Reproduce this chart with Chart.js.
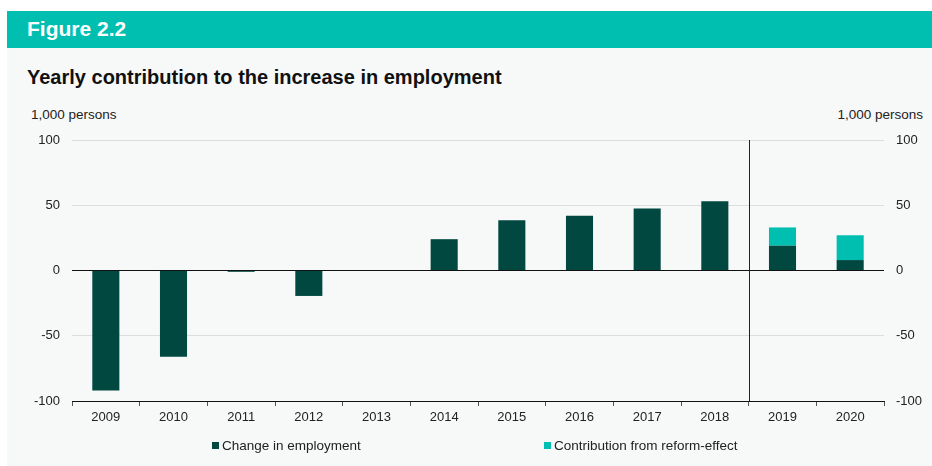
<!DOCTYPE html>
<html>
<head>
<meta charset="utf-8">
<script src="https://cdn.jsdelivr.net/npm/chart.js@4"></script>
<style>
  html, body { margin: 0; padding: 0; background: #fff; }
  body { width: 932px; height: 466px; position: relative; overflow: hidden; font-family: "Liberation Sans", Arial, sans-serif; }
  .panel { position: absolute; left: 7px; top: 48px; right: 0; bottom: 0; background: #f7f8f8; }
  .header { position: absolute; left: 7px; top: 11px; right: 0; height: 37px; background: #00bfb0; }
  .header span { position: absolute; left: 20px; top: 6px; color: #fff; font-weight: bold; font-size: 21px; }
  .title { position: absolute; left: 27px; top: 66px; font-weight: bold; font-size: 20px; color: #111; }
  .unit { position: absolute; top: 107px; font-size: 13.5px; color: #222; }
  .legend { position: absolute; top: 438px; font-size: 13.5px; color: #222; white-space: nowrap; }
  .legend i { display: inline-block; width: 7px; height: 7px; margin-right: 3px; vertical-align: 1px; }
  canvas { position: absolute; left: 0; top: 0; }
</style>
</head>
<body>
<div class="panel"></div>
<div class="header"><span>Figure 2.2</span></div>
<div class="title">Yearly contribution to the increase in employment</div>
<div class="unit" style="left:31px">1,000 persons</div>
<div class="unit" style="right:9px">1,000 persons</div>
<canvas id="chartEmployment" width="932" height="466"></canvas>
<div class="legend" style="left:212px"><i style="background:#004840"></i>Change in employment</div>
<div class="legend" style="left:544px"><i style="background:#00bfb0"></i>Contribution from reform-effect</div>

<script>
// Data (1,000 persons)
const years = ['2009', '2010', '2011', '2012', '2013', '2014', '2015', '2016', '2017', '2018', '2019', '2020'];
const changeInEmployment = [-92, -66, -1, -19.5, 0, 24, 38.5, 42, 47.5, 53, 19, 8];
const reformEffect = [null, null, null, null, null, null, null, null, null, null, 14, 19];
const yTicks = [100, 50, 0, -50, -100];

const darkGreen = '#004840';
const teal = '#00bfb0';

// Vertical line between 2018 and 2019
const forecastLine = {
  id: 'forecastLine',
  afterDatasetsDraw(chart) {
    const { ctx, chartArea, scales } = chart;
    const x = Math.round((scales.x.getPixelForValue(9) + scales.x.getPixelForValue(10)) / 2) + 0.5;
    ctx.save();
    ctx.strokeStyle = '#222';
    ctx.lineWidth = 1;
    ctx.beginPath();
    ctx.moveTo(x, chartArea.top);
    ctx.lineTo(x, chartArea.bottom);
    ctx.stroke();
    ctx.restore();
  }
};

const setTicks = scale => { scale.ticks = yTicks.map(v => ({ value: v })); };
const tickFont = { family: '"Liberation Sans", Arial, sans-serif', size: 13 };

new Chart(document.getElementById('chartEmployment'), {
  type: 'bar',
  data: {
    labels: years,
    datasets: [
      { label: 'Change in employment', data: changeInEmployment, backgroundColor: darkGreen },
      { label: 'Contribution from reform-effect', data: reformEffect, backgroundColor: teal }
    ]
  },
  options: {
    responsive: false,
    animation: false,
    datasets: { bar: { barPercentage: 0.4, categoryPercentage: 1 } },
    layout: { padding: { left: 0, right: 0, top: 140, bottom: 35 } },
    plugins: { legend: { display: false }, tooltip: { enabled: false } },
    scales: {
      x: {
        stacked: true,
        afterFit: s => { s.height = 30; },
        grid: { drawOnChartArea: false, drawTicks: true, tickLength: 5, color: '#555', offset: true },
        border: { display: true, color: '#111', width: 1 },
        ticks: { color: '#222', font: tickFont, padding: 4, maxRotation: 0 }
      },
      y: {
        stacked: true,
        position: 'left',
        min: -100, max: 100,
        afterBuildTicks: setTicks,
        afterFit: s => { s.width = 72; },
        grid: {
          drawTicks: false,
          color: c => (c.tick && (c.tick.value === 0 || c.tick.value === -100)) ? '#111' : '#dcdede'
        },
        border: { display: false },
        ticks: { color: '#222', font: tickFont, padding: 12 }
      },
      y2: {
        position: 'right',
        min: -100, max: 100,
        afterBuildTicks: setTicks,
        afterFit: s => { s.width = 48; },
        grid: { display: false, drawTicks: false },
        border: { display: false },
        ticks: { color: '#222', font: tickFont, padding: 12 }
      }
    }
  },
  plugins: [forecastLine]
});
</script>
</body>
</html>
